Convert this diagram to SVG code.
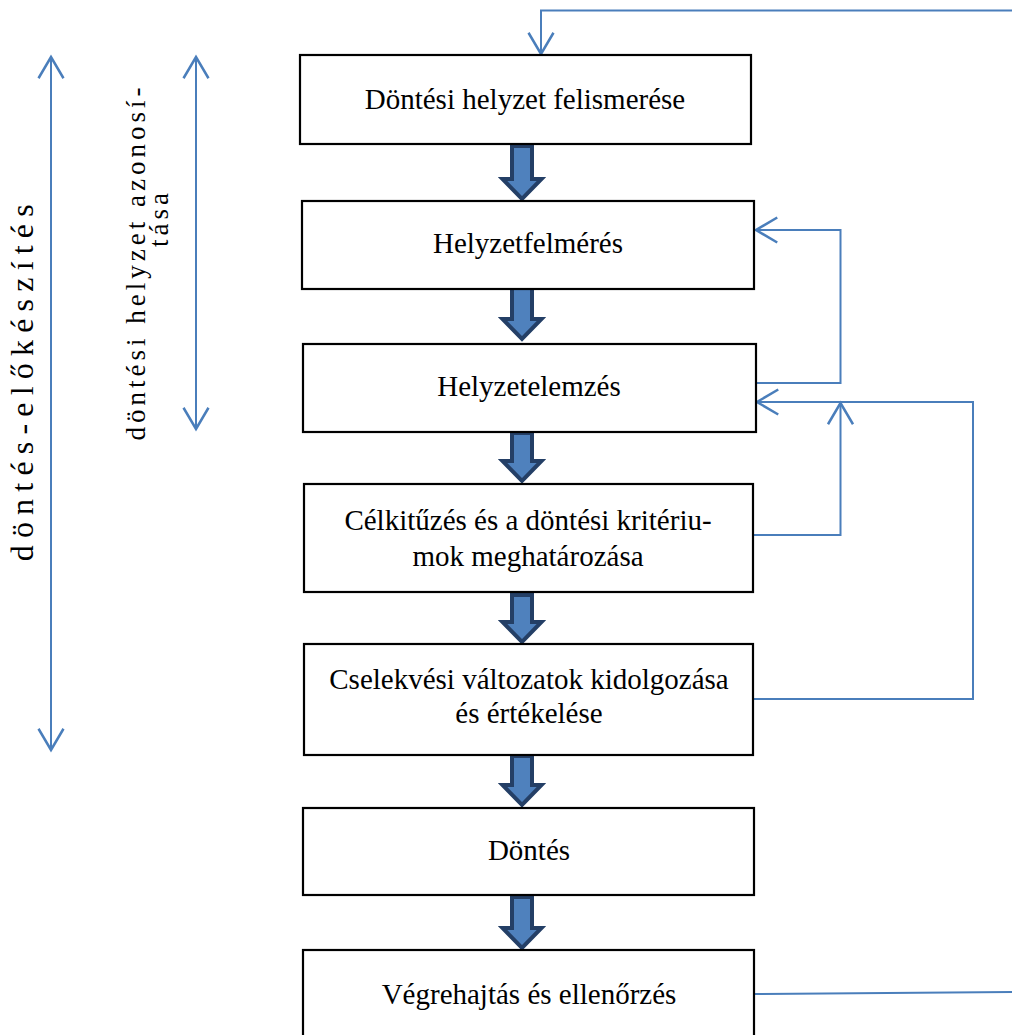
<svg xmlns="http://www.w3.org/2000/svg" width="1012" height="1035" viewBox="0 0 1012 1035">
<defs>
<style>
.box{fill:#fff;stroke:#000;stroke-width:2.2}
.t{font-family:"Liberation Serif","Times New Roman",serif;font-size:29px;fill:#000;text-anchor:middle}
.side{font-family:"Liberation Serif","Times New Roman",serif;font-size:28px;fill:#000;text-anchor:middle}
.con{fill:none;stroke:#4a7ebb;stroke-width:2}
.blk{fill:#4f81bd;stroke:#243f66;stroke-width:4;stroke-linejoin:miter}
</style>
<marker id="oa" markerUnits="userSpaceOnUse" markerWidth="30" markerHeight="30" viewBox="-20 -12 24 24" refX="0" refY="0" orient="auto-start-reverse">
<path d="M-17,-10 L0,0 L-17,10" fill="none" stroke="#4a7ebb" stroke-width="2"/>
</marker>
</defs>

<g id="connectors">
<path class="con" d="M1012,10.5 L541,10.5 L541,54" marker-end="url(#oa)"/>
<path class="con" d="M756,383 L840.5,383 L840.5,230 L756,230" marker-end="url(#oa)"/>
<path class="con" d="M753,535 L840.5,535 L840.5,403" marker-end="url(#oa)"/>
<path class="con" d="M753,699 L973,699 L973,402 L757,402" marker-end="url(#oa)"/>
<path class="con" d="M754,994 L1012,992"/>
<path class="con" d="M51,57 L51,750" marker-start="url(#oa)" marker-end="url(#oa)"/>
<path class="con" d="M196,57 L196,429" marker-start="url(#oa)" marker-end="url(#oa)"/>
</g>

<g id="block-arrows">
<path class="blk" d="M512,146 L532,146 L532,179 L541.5,179 L522,199 L502.5,179 L512,179 Z"/>
<path class="blk" d="M512,288 L532,288 L532,319 L541.5,319 L522,339 L502.5,319 L512,319 Z"/>
<path class="blk" d="M512,433 L532,433 L532,461 L541.5,461 L522,481 L502.5,461 L512,461 Z"/>
<path class="blk" d="M512,595 L532,595 L532,622 L541.5,622 L522,642 L502.5,622 L512,622 Z"/>
<path class="blk" d="M512,756 L532,756 L532,785 L541.5,785 L522,805 L502.5,785 L512,785 Z"/>
<path class="blk" d="M512,897 L532,897 L532,928 L541.5,928 L522,948 L502.5,928 L512,928 Z"/>
</g>

<g id="n1"><rect class="box" x="300" y="55" width="451" height="89"/><text class="t" x="525" y="109">Döntési helyzet felismerése</text></g>
<g id="n2"><rect class="box" x="302" y="201" width="452" height="88"/><text class="t" x="528" y="253">Helyzetfelmérés</text></g>
<g id="n3"><rect class="box" x="303" y="344" width="453" height="88"/><text class="t" x="529" y="396">Helyzetelemzés</text></g>
<g id="n4"><rect class="box" x="304" y="484" width="449" height="108"/><text class="t" x="528" y="530">Célkitűzés és a döntési kritériu-</text><text class="t" x="528" y="566">mok meghatározása</text></g>
<g id="n5"><rect class="box" x="304" y="644" width="449" height="111"/><text class="t" x="529" y="689">Cselekvési változatok kidolgozása</text><text class="t" x="529" y="723">és értékelése</text></g>
<g id="n6"><rect class="box" x="303" y="808" width="451" height="87"/><text class="t" x="529" y="860">Döntés</text></g>
<g id="n7"><rect class="box" x="303" y="950" width="451" height="95"/><text class="t" x="529" y="1004">Végrehajtás és ellenőrzés</text></g>

<g id="side-labels">
<text class="side" transform="translate(33,383) rotate(-90)" style="font-size:32px;letter-spacing:-0.4px">d ö n t é s - e l ő k é s z í t é s</text>
<text class="side" transform="translate(145,262) rotate(-90)" style="font-size:27px;letter-spacing:4px">döntési helyzet azonosí-</text>
<text class="side" transform="translate(168,218) rotate(-90)" style="font-size:27px;letter-spacing:4px">tása</text>
</g>
</svg>
